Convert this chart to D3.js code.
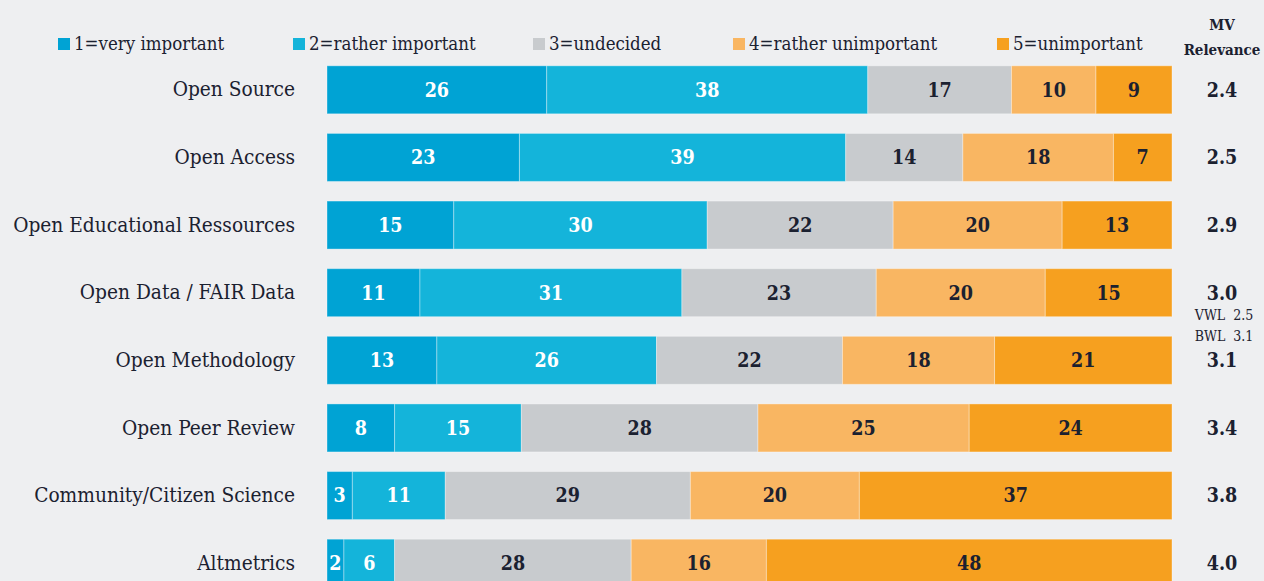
<!DOCTYPE html>
<html>
<head>
<meta charset="utf-8">
<script src="https://cdn.jsdelivr.net/npm/d3@7"></script>
<style>
  html, body { margin: 0; padding: 0; background: #eeeff1; }
  svg { display: block; font-family: "DejaVu Serif Condensed", "DejaVu Serif", "Liberation Serif", serif; }
</style>
</head>
<body>
<div id="chart-area"></div>
<script>
const width = 1264;
const height = 581;
const margin = {top: 56, left: 327, bottom: -16, right: 92};

// 카테고리와 응답 비율 (%)
const categories = [
  'Open Source', 'Open Access', 'Open Educational Ressources', 'Open Data / FAIR Data',
  'Open Methodology', 'Open Peer Review', 'Community/Citizen Science', 'Altmetrics'
];
const answerLabels = ['1=very important', '2=rather important', '3=undecided', '4=rather unimportant', '5=unimportant'];
const answer1 = [26, 23, 15, 11, 13, 8, 3, 2];
const answer2 = [38, 39, 30, 31, 26, 15, 11, 6];
const answer3 = [17, 14, 22, 23, 22, 28, 29, 28];
const answer4 = [10, 18, 20, 20, 18, 25, 20, 16];
const answer5 = [9, 7, 13, 15, 21, 24, 37, 48];
const mvRelevance = ['2.4', '2.5', '2.9', '3.0', '3.1', '3.4', '3.8', '4.0'];
const subNotes = [{cat: 'Open Data / FAIR Data', lines: ['VWL  2.5', 'BWL  3.1']}];

const colors = ['#00a3d4', '#14b4da', '#c8cbce', '#f9b662', '#f6a01f'];
const textColors = ['#ffffff', '#ffffff', '#1b2130', '#1b2130', '#1b2130'];
const series = [answer1, answer2, answer3, answer4, answer5];

const y = d3.scaleBand()
  .domain(categories)
  .range([margin.top, height - margin.bottom])
  .paddingInner(0.29)
  .paddingOuter(0.145);

// 각 막대는 합계를 100으로 맞춰 전체 너비를 채웁니다.
const x = d3.scaleLinear()
  .domain([0, 100])
  .range([margin.left, width - margin.right]);

const rows = categories.map((cat, i) => {
  const vals = series.map(s => s[i]);
  const sum = d3.sum(vals);
  let acc = 0;
  const segs = vals.map((v, k) => {
    const seg = {cat, k, value: v, x0: acc / sum * 100, x1: (acc + v) / sum * 100};
    acc += v;
    return seg;
  });
  return {cat, segs, mv: mvRelevance[i]};
});

const svg = d3.select('#chart-area').append('svg')
  .attr('width', width).attr('height', height);

// 범례
const legendX = [58, 293, 533, 733, 997];
const legend = svg.append('g').selectAll('g').data(answerLabels).enter().append('g')
  .attr('transform', (d, i) => `translate(${legendX[i]}, 44)`);
legend.append('rect')
  .attr('x', 0).attr('y', -6).attr('width', 12).attr('height', 12)
  .attr('fill', (d, i) => colors[i]);
legend.append('text')
  .attr('x', 16).attr('dy', '0.35em')
  .attr('font-size', 18.5).attr('fill', '#1b2130')
  .text(d => d);

// MV 헤더
svg.append('text')
  .attr('x', 1222).attr('y', 30)
  .attr('text-anchor', 'middle').attr('font-size', 15).attr('font-weight', 'bold').attr('fill', '#1b2130')
  .text('MV');
svg.append('text')
  .attr('x', 1222).attr('y', 55)
  .attr('text-anchor', 'middle').attr('font-size', 15).attr('font-weight', 'bold').attr('fill', '#1b2130')
  .text('Relevance');

// y축 카테고리
svg.append('g')
  .attr('transform', `translate(${margin.left - 32}, 0)`)
  .call(d3.axisLeft(y).tickSize(0).tickPadding(0))
  .call(g => g.select('.domain').remove())
  .call(g => g.selectAll('text')
    .attr('font-size', 20.7)
    .attr('font-family', '"DejaVu Serif Condensed", "DejaVu Serif", serif')
    .attr('fill', '#1b2130'));

const row = svg.append('g').selectAll('g').data(rows).enter().append('g')
  .attr('transform', d => `translate(0, ${y(d.cat)})`);

row.selectAll('rect').data(d => d.segs).enter().append('rect')
  .attr('x', d => x(d.x0))
  .attr('y', 0)
  .attr('width', d => x(d.x1) - x(d.x0))
  .attr('height', y.bandwidth())
  .attr('fill', d => colors[d.k])
  .attr('stroke', 'rgba(255,255,255,0.35)')
  .attr('stroke-width', 1);

row.selectAll('text.val').data(d => d.segs).enter().append('text')
  .attr('class', 'val')
  .attr('x', d => (x(d.x0) + x(d.x1)) / 2)
  .attr('y', y.bandwidth() / 2)
  .attr('dy', '0.35em')
  .attr('text-anchor', 'middle')
  .attr('font-size', 19.5).attr('font-weight', 'bold')
  .attr('fill', d => textColors[d.k])
  .text(d => d.value);

// MV 값
row.append('text')
  .attr('x', 1222)
  .attr('y', y.bandwidth() / 2)
  .attr('dy', '0.35em')
  .attr('text-anchor', 'middle')
  .attr('font-size', 19.5).attr('font-weight', 'bold').attr('fill', '#1b2130')
  .text(d => d.mv);

// VWL / BWL 보조값
subNotes.forEach(n => {
  svg.append('g').selectAll('text').data(n.lines).enter().append('text')
    .attr('x', 1224)
    .attr('y', (d, i) => y(n.cat) + y.bandwidth() / 2 + 22 + i * 21)
    .attr('dy', '0.35em')
    .attr('text-anchor', 'middle')
    .attr('font-size', 14).attr('fill', '#1b2130')
    .style('white-space', 'pre')
    .text(d => d);
});
</script>
</body>
</html>
